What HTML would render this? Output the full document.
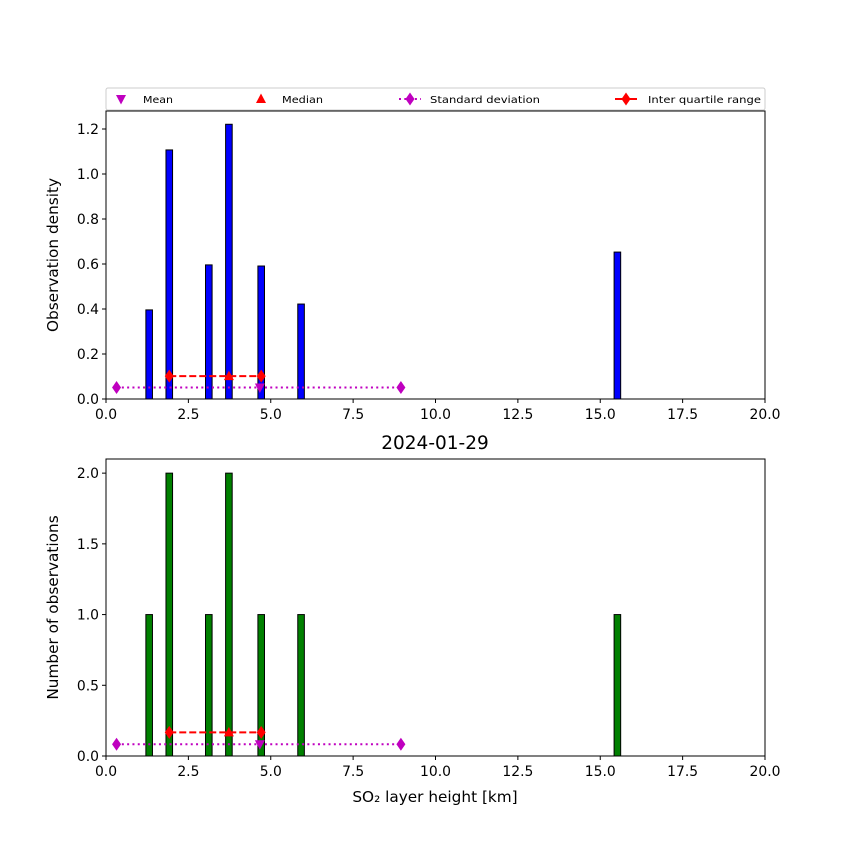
<!DOCTYPE html>
<html><head><meta charset="utf-8"><style>body{margin:0;background:#fff}svg text{font-family:"DejaVu Sans","Liberation Sans",sans-serif}</style></head>
<body>
<svg id="fig" width="850" height="850" xmlns="http://www.w3.org/2000/svg"></svg>
<script>
const binCenters=[1.31,1.92,3.12,3.73,4.71,5.92,15.52];
const densityValues=[0.396,1.107,0.596,1.221,0.591,0.422,0.653];
const countValues=[1,2,1,2,1,1,1];
const xTicks=[0,2.5,5,7.5,10,12.5,15,17.5,20];
const xTickLabels=["0.0","2.5","5.0","7.5","10.0","12.5","15.0","17.5","20.0"];
const topYTicks=[0,0.2,0.4,0.6,0.8,1.0,1.2];
const topYTickLabels=["0.0","0.2","0.4","0.6","0.8","1.0","1.2"];
const botYTicks=[0,0.5,1.0,1.5,2.0];
const botYTickLabels=["0.0","0.5","1.0","1.5","2.0"];
const meanValue=[4.67];
const medianValue=[3.73];
const stdRange=[0.32,8.95];
const iqrRange=[1.92,4.71];
const barWidthKm=[0.2];
const NS="http://www.w3.org/2000/svg";
const svg=document.getElementById('fig');
function mk(t,a,p){const e=document.createElementNS(NS,t);for(const k in a)e.setAttribute(k,a[k]);(p||svg).appendChild(e);return e;}
const L=106,R=765;
const xs=v=>L+(v-0)/20*(R-L);
function panel(name,top,bot,ymax,vals,color,yTicks,yLabels,yTitle,statY1,statY2){
  const g=mk('g',{});
  
  
  const ys=v=>bot-v/ymax*(bot-top);
  const w=xs(barWidthKm[0])-xs(0);
  vals.forEach((v,i)=>{
    const r=mk('rect',{x:xs(binCenters[i])-w/2,y:ys(v),width:w,height:bot-ys(v),fill:color,stroke:'#000','stroke-width':1},g);
    
    
  });
  const sy=ys(statY1), iy=ys(statY2);
  const sl=mk('line',{x1:xs(stdRange[0]),x2:xs(stdRange[1]),y1:sy,y2:sy,stroke:'#bf00bf','stroke-width':2,'stroke-dasharray':'2,3.3'},g);
  
  stdRange.forEach(v=>{const d=mk('path',{d:`M${xs(v)},${sy-6.5}L${xs(v)+4.5},${sy}L${xs(v)},${sy+6.5}L${xs(v)-4.5},${sy}Z`,fill:'#bf00bf'},g);
    });
  const il=mk('line',{x1:xs(iqrRange[0]),x2:xs(iqrRange[1]),y1:iy,y2:iy,stroke:'#ff0000','stroke-width':2,'stroke-dasharray':'7,3'},g);
  
  iqrRange.forEach(v=>{const d=mk('path',{d:`M${xs(v)},${iy-6.5}L${xs(v)+4.5},${iy}L${xs(v)},${iy+6.5}L${xs(v)-4.5},${iy}Z`,fill:'#ff0000'},g);
    });
  const mx=xs(medianValue[0]);
  const md=mk('path',{d:`M${mx},${iy-5.5}L${mx+5},${iy+4}L${mx-5},${iy+4}Z`,fill:'#ff0000'},g);
  
  const mnx=xs(meanValue[0]);
  const mn=mk('path',{d:`M${mnx-5},${sy-4}L${mnx+5},${sy-4}L${mnx},${sy+5.5}Z`,fill:'#bf00bf'},g);
  
  const fr=mk('rect',{x:L,y:top,width:R-L,height:bot-top,fill:'none',stroke:'#000','stroke-width':1},g);
  
  xTicks.forEach((v,i)=>{
    mk('line',{x1:xs(v),x2:xs(v),y1:bot,y2:bot+4,stroke:'#000'},g);
    const t=mk('text',{x:xs(v),y:bot+20,'text-anchor':'middle','font-size':'13.9'},g);t.textContent=xTickLabels[i];
    
  });
  yTicks.forEach((v,i)=>{
    mk('line',{x1:L-4,x2:L,y1:ys(v),y2:ys(v),stroke:'#000'},g);
    const t=mk('text',{x:L-7,y:ys(v)+5,'text-anchor':'end','font-size':'13.9'},g);t.textContent=yLabels[i];
    
  });
  const yt=mk('text',{x:0,y:0,'text-anchor':'middle','font-size':'15.3',transform:`translate(58,${(top+bot)/2}) rotate(-90)`},g);
  yt.textContent=yTitle;
}
const maxD=Math.max(...densityValues), maxC=Math.max(...countValues);
panel('density-panel',111,399,1.28,densityValues,'#0000ff',topYTicks,topYTickLabels,'Observation density',maxD/24,maxD/12);
panel('count-panel',459,756,2.1,countValues,'#008000',botYTicks,botYTickLabels,'Number of observations',maxC/24,maxC/12);
const title=mk('text',{x:435,y:449,'text-anchor':'middle','font-size':'18.5'});title.textContent='2024-01-29';

const xt=mk('text',{x:435,y:802,'text-anchor':'middle','font-size':'15.3'});xt.textContent='SO₂ layer height [km]';

const lg=mk('g',{});


mk('rect',{x:106,y:88,width:659,height:22,fill:'#fff',stroke:'#ccc','stroke-width':1,rx:2},lg);
const ly=99;
mk('path',{d:`M116,${ly-4}L126,${ly-4}L121,${ly+5.5}Z`,fill:'#bf00bf'},lg);
mk('path',{d:`M261,${ly-5.5}L266,${ly+4}L256,${ly+4}Z`,fill:'#ff0000'},lg);
mk('line',{x1:399,x2:421,y1:ly,y2:ly,stroke:'#bf00bf','stroke-width':2,'stroke-dasharray':'2,3.3'},lg);
mk('path',{d:`M410,${ly-6.5}L414.5,${ly}L410,${ly+6.5}L405.5,${ly}Z`,fill:'#bf00bf'},lg);
mk('line',{x1:615,x2:637,y1:ly,y2:ly,stroke:'#ff0000','stroke-width':2},lg);
mk('path',{d:`M626,${ly-6.5}L630.5,${ly}L626,${ly+6.5}L621.5,${ly}Z`,fill:'#ff0000'},lg);
[['Mean',143],['Median',282],['Standard deviation',430],['Inter quartile range',648]].forEach(([s,x])=>{
  const t=mk('text',{x:x,y:ly+4,'font-size':'10','textLength':({'Mean':30,'Median':41,'Standard deviation':110,'Inter quartile range':113})[s],'lengthAdjust':'spacingAndGlyphs'},lg);t.textContent=s;
  
  
});
</script>
</body></html>
